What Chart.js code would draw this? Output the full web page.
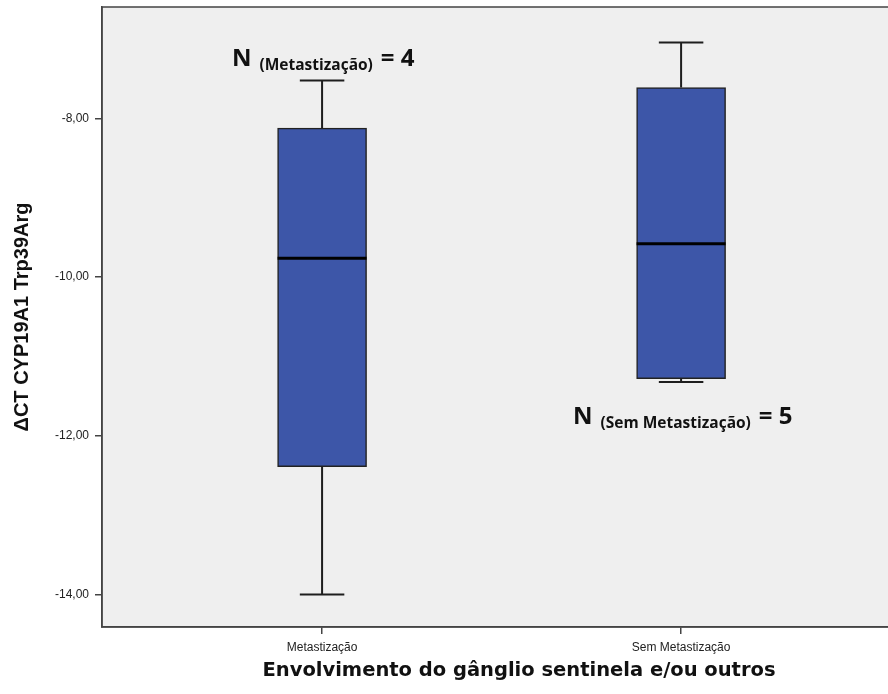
<!DOCTYPE html>
<html>
<head>
<meta charset="utf-8">
<script src="https://cdn.jsdelivr.net/npm/chart.js@4"></script>
<style>
  body { margin: 0; background: #fff; overflow: hidden; }
  #wrap { width: 940px; height: 694px; }
</style>
</head>
<body>
<div id="wrap"><canvas id="boxChart" width="940" height="694"></canvas></div>
<script>
// dados
let categories = ['Metastização', 'Sem Metastização'];
let minValues = [-14.00, -11.32];
let q1Values = [-12.39, -11.28];
let medianValues = [-9.76, -9.58];
let q3Values = [-8.12, -7.61];
let maxValues = [-7.52, -7.04];
let nValues = [4, 5];
let yTickValues = [-14, -12, -10, -8];

// textos "N (grupo) = n", ancorados em coordenadas dos eixos
let nLabels = [
  { x: 0.749, y: -7.34, sub: '(Metastização)', n: nValues[0] },
  { x: 1.699, y: -11.85, sub: '(Sem Metastização)', n: nValues[1] }
];

//fundo cinza e moldura da área do gráfico
let framePlugin = {
  id: 'frame',
  beforeDraw: function (chart) {
    let a = chart.chartArea;
    let ctx = chart.ctx;
    ctx.save();
    ctx.fillStyle = '#efefef';
    ctx.fillRect(a.left, a.top, a.right - a.left, a.bottom - a.top);
    ctx.restore();
  },
  afterDraw: function (chart) {
    let a = chart.chartArea;
    let ctx = chart.ctx;
    ctx.save();
    ctx.strokeStyle = '#444';
    ctx.lineWidth = 1.5;
    ctx.strokeRect(a.left, a.top, a.right - a.left, a.bottom - a.top);
    ctx.restore();
  }
};

//bigodes, medianas e textos N
let boxPlugin = {
  id: 'boxParts',
  afterDatasetsDraw: function (chart) {
    let ctx = chart.ctx;
    let xs = chart.scales.x;
    let ys = chart.scales.y;
    let bars = chart.getDatasetMeta(0).data;
    ctx.save();
    bars.forEach(function (bar, i) {
      let cx = bar.x;
      let half = bar.width / 2;
      let cap = half / 2;
      ctx.strokeStyle = '#1e1e1e';
      ctx.lineWidth = 2;
      ctx.beginPath();
      ctx.moveTo(cx, ys.getPixelForValue(q3Values[i]));
      ctx.lineTo(cx, ys.getPixelForValue(maxValues[i]));
      ctx.moveTo(cx, ys.getPixelForValue(q1Values[i]));
      ctx.lineTo(cx, ys.getPixelForValue(minValues[i]));
      ctx.moveTo(cx - cap, ys.getPixelForValue(maxValues[i]));
      ctx.lineTo(cx + cap, ys.getPixelForValue(maxValues[i]));
      ctx.moveTo(cx - cap, ys.getPixelForValue(minValues[i]));
      ctx.lineTo(cx + cap, ys.getPixelForValue(minValues[i]));
      ctx.stroke();
      // mediana
      ctx.strokeStyle = '#000';
      ctx.lineWidth = 3;
      ctx.beginPath();
      ctx.moveTo(cx - half, ys.getPixelForValue(medianValues[i]));
      ctx.lineTo(cx + half, ys.getPixelForValue(medianValues[i]));
      ctx.stroke();
    });
    // textos N
    ctx.fillStyle = '#111';
    ctx.textBaseline = 'alphabetic';
    ctx.textAlign = 'left';
    nLabels.forEach(function (lb) {
      let px = xs.getPixelForValue(lb.x);
      let py = ys.getPixelForValue(lb.y);
      ctx.font = 'bold 24px "Open Sans"';
      ctx.fillText('N', px, py);
      px += ctx.measureText('N').width + 8;
      ctx.font = 'bold 15.5px "Open Sans"';
      ctx.fillText(lb.sub, px, py + 4);
      px += ctx.measureText(lb.sub).width + 8;
      ctx.font = 'bold 24px "Open Sans"';
      ctx.fillText('= ' + lb.n, px, py);
    });
    ctx.restore();
  }
};

let ctx = document.getElementById('boxChart').getContext('2d');
let boxChart = new Chart(ctx, {
  type: 'bar',
  data: {
    datasets: [{
      data: categories.map(function (c, i) {
        return { x: i + 1, y: [q1Values[i], q3Values[i]] };
      }),
      backgroundColor: '#3d56a8',
      borderColor: '#222',
      borderWidth: 1.5,
      borderSkipped: false,
      barThickness: 89
    }]
  },
  options: {
    responsive: false,
    animation: false,
    devicePixelRatio: 1,
    layout: { padding: { top: 7, right: 4, left: 0, bottom: 0 } },
    plugins: {
      legend: { display: false },
      tooltip: { enabled: false }
    },
    scales: {
      x: {
        type: 'linear',
        offset: false,
        min: 0.387,
        max: 2.71,
        afterBuildTicks: function (s) { s.ticks = [{ value: 1 }, { value: 2 }]; },
        afterFit: function (s) { s.height = 67; s.paddingLeft = 0; s.paddingRight = 0; },
        ticks: {
          autoSkip: false,
          maxRotation: 0,
          padding: 6,
          color: '#222',
          font: { family: '"Liberation Sans", Arial', size: 12 },
          callback: function (v) { return categories[v - 1]; }
        },
        grid: { offset: false, drawOnChartArea: false, drawTicks: true, tickLength: 7, color: '#444', lineWidth: 1.5 },
        border: { color: '#444', width: 1.5 },
        title: {
          display: true,
          text: 'Envolvimento do gânglio sentinela e/ou outros',
          color: '#111',
          font: { family: '"DejaVu Sans"', size: 19.5, weight: 'bold' },
          padding: { top: 0, bottom: 11 }
        }
      },
      y: {
        min: -14.41,
        max: -6.594,
        afterBuildTicks: function (s) { s.ticks = yTickValues.map(function (v) { return { value: v }; }); },
        afterFit: function (s) { s.width = 102; s.paddingTop = 0; s.paddingBottom = 0; },
        ticks: {
          padding: 6,
          color: '#222',
          font: { family: '"Liberation Sans", Arial', size: 12 },
          callback: function (v) { return v.toFixed(2).replace('.', ','); }
        },
        grid: { drawOnChartArea: false, drawTicks: true, tickLength: 7, color: '#444', lineWidth: 1.5 },
        border: { color: '#444', width: 1.5 },
        title: {
          display: true,
          text: 'ΔCT CYP19A1 Trp39Arg',
          color: '#111',
          font: { family: '"Liberation Sans", Arial', size: 20, weight: 'bold' },
          padding: { top: 10, bottom: 0 }
        }
      }
    }
  },
  plugins: [framePlugin, boxPlugin]
});
</script>
</body>
</html>
